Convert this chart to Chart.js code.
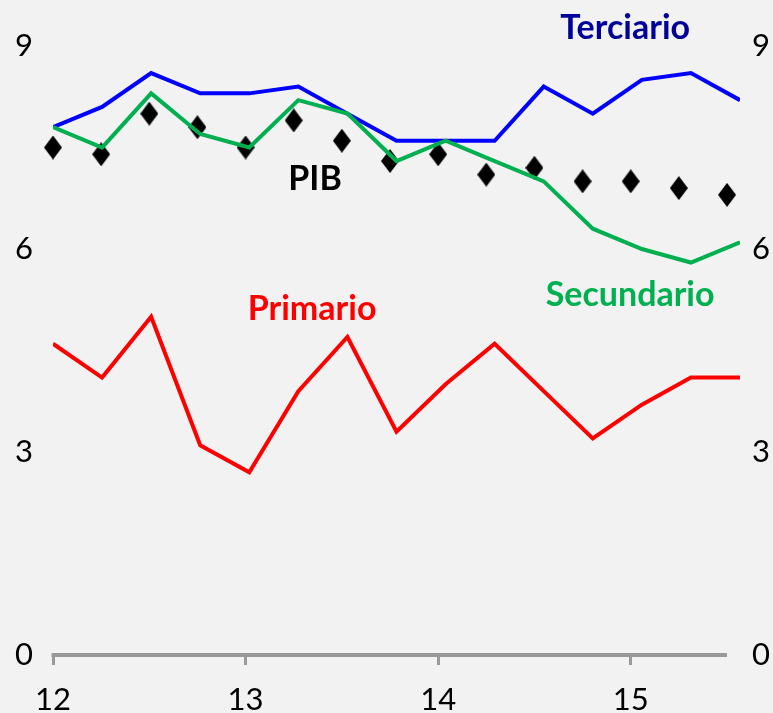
<!DOCTYPE html>
<html>
<head>
<meta charset="utf-8">
<script src="https://cdn.jsdelivr.net/npm/chart.js@4.4.0/dist/chart.umd.min.js"></script>
<style>
    html, body { margin: 0; padding: 0; background: #f2f2f2; }
    canvas { display: block; }
</style>
</head>
<body>
<canvas id="chart-pib" width="773" height="713"></canvas>
<script>
// quarters 2012-I .. 2015-III
var quarters = ["12-I", "12-II", "12-III", "12-IV", "13-I", "13-II", "13-III", "13-IV",
                "14-I", "14-II", "14-III", "14-IV", "15-I", "15-II", "15-III"];
var yearTicks = [0, 4, 8, 12];
var yearLabels = ["12", "13", "14", "15"];
var valueTicks = [0, 3, 6, 9];

var terciario  = [7.8, 8.1, 8.6, 8.3, 8.3, 8.4, 8.0, 7.6, 7.6, 7.6, 8.4, 8.0, 8.5, 8.6, 8.2];
var secundario = [7.8, 7.5, 8.3, 7.7, 7.5, 8.2, 8.0, 7.3, 7.6, 7.3, 7.0, 6.3, 6.0, 5.8, 6.1];
var primario   = [4.6, 4.1, 5.0, 3.1, 2.7, 3.9, 4.7, 3.3, 4.0, 4.6, 3.9, 3.2, 3.7, 4.1, 4.1];
var pib        = [7.5, 7.4, 8.0, 7.8, 7.5, 7.9, 7.6, 7.3, 7.4, 7.1, 7.2, 7.0, 7.0, 6.9, 6.8];

// series names written inside the plot (quarter index / value of the text baseline)
var seriesNotes = [
    { text: "Terciario",  color: "#000099", q: 11.66, v: 9.10 },
    { text: "Secundario", color: "#00b050", q: 11.76, v: 5.16 },
    { text: "Primario",   color: "#ff0000", q: 5.28,  v: 4.95 },
    { text: "PIB",        color: "#000000", q: 5.34,  v: 6.87 }
];

function points(values) {
    return values.map(function (v, i) { return { x: i, y: v }; });
}

// tall black diamond marker
var diamond = document.createElement("canvas");
diamond.width = 18;
diamond.height = 24;
var dctx = diamond.getContext("2d");
dctx.fillStyle = "#000000";
dctx.beginPath();
dctx.moveTo(9, 0);
dctx.lineTo(18, 12);
dctx.lineTo(9, 24);
dctx.lineTo(0, 12);
dctx.closePath();
dctx.fill();

var tickFont = { family: "Lato", size: 31, weight: "normal" };

var decorations = {
    id: "decorations",
    beforeDatasetsDraw: function (chart) {
        var ctx = chart.ctx;
        var x = chart.scales.x, y = chart.scales.y;
        var y0 = y.getPixelForValue(0);
        ctx.save();
        ctx.strokeStyle = "#999999";
        ctx.lineWidth = 4;
        ctx.beginPath();
        ctx.moveTo(x.getPixelForValue(0) - 1.5, y0);
        ctx.lineTo(x.getPixelForValue(quarters.length - 1), y0);
        ctx.stroke();
        ctx.restore();
    },
    afterDatasetsDraw: function (chart) {
        var ctx = chart.ctx;
        var x2 = chart.scales.x2, y = chart.scales.y;
        ctx.save();
        ctx.font = "bold 34px Lato";
        ctx.textAlign = "center";
        ctx.textBaseline = "alphabetic";
        seriesNotes.forEach(function (n) {
            ctx.fillStyle = n.color;
            ctx.fillText(n.text, x2.getPixelForValue(n.q), y.getPixelForValue(n.v));
        });
        ctx.restore();
    }
};

new Chart(document.getElementById("chart-pib"), {
    type: "line",
    data: {
        datasets: [{
            label: "Secundario",
            data: points(secundario),
            borderColor: "#00b050",
            borderWidth: 4,
            pointRadius: 0,
            tension: 0,
            xAxisID: "x2",
            yAxisID: "y",
            order: 0
        }, {
            label: "Terciario",
            data: points(terciario),
            borderColor: "#0000ff",
            borderWidth: 4,
            pointRadius: 0,
            tension: 0,
            xAxisID: "x2",
            yAxisID: "y",
            order: 0
        }, {
            label: "Primario",
            data: points(primario),
            borderColor: "#ff0000",
            borderWidth: 4,
            pointRadius: 0,
            tension: 0,
            xAxisID: "x2",
            yAxisID: "y",
            order: 0
        }, {
            label: "PIB",
            data: points(pib),
            showLine: false,
            pointStyle: diamond,
            pointRadius: 10,
            backgroundColor: "#000000",
            borderColor: "#000000",
            xAxisID: "x",
            yAxisID: "y",
            clip: false,
            order: 1
        }]
    },
    options: {
        responsive: false,
        animation: false,
        layout: { padding: { top: 46, left: 0, right: 0, bottom: 0 } },
        plugins: {
            legend: { display: false },
            tooltip: { enabled: false }
        },
        scales: {
            x: {
                type: "linear",
                position: "bottom",
                min: 0,
                max: 14.27,
                afterFit: function (scale) { scale.height = 58; },
                afterBuildTicks: function (scale) {
                    scale.ticks = yearTicks.map(function (v) { return { value: v }; });
                },
                grid: {
                    display: true,
                    drawOnChartArea: false,
                    drawTicks: true,
                    tickLength: 10,
                    color: "#999999",
                    lineWidth: 3
                },
                border: { display: false },
                ticks: {
                    padding: 16,
                    color: "#000000",
                    font: tickFont,
                    maxRotation: 0,
                    autoSkip: false,
                    callback: function (value, index) { return yearLabels[index]; }
                }
            },
            x2: {
                type: "linear",
                display: false,
                min: 0,
                max: quarters.length - 1
            },
            y: {
                position: "left",
                min: 0,
                max: 9,
                afterFit: function (scale) { scale.width = 53; },
                afterBuildTicks: function (scale) {
                    scale.ticks = valueTicks.map(function (v) { return { value: v }; });
                },
                grid: { display: false, drawTicks: false },
                border: { display: false },
                ticks: { padding: 20, color: "#000000", font: tickFont }
            },
            yR: {
                position: "right",
                min: 0,
                max: 9,
                afterFit: function (scale) { scale.width = 33; },
                afterBuildTicks: function (scale) {
                    scale.ticks = valueTicks.map(function (v) { return { value: v }; });
                },
                grid: { display: false, drawTicks: false },
                border: { display: false },
                ticks: { padding: 12, color: "#000000", font: tickFont }
            }
        }
    },
    plugins: [decorations]
});
</script>
</body>
</html>
